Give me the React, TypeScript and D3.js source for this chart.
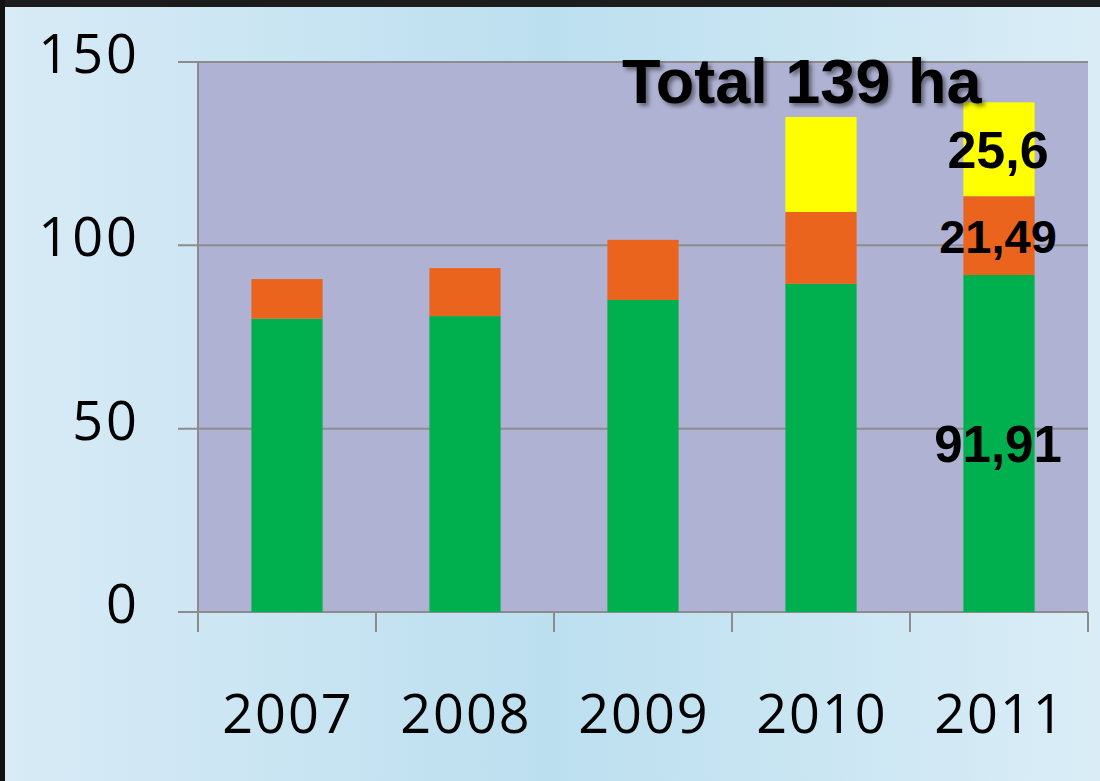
import React, { useRef, useEffect } from "react";
import * as d3 from "d3";

const years = ["2007", "2008", "2009", "2010", "2011"];
const greenValues = [80, 80.7, 85.1, 89.5, 91.91];
const orangeValues = [10.8, 13.1, 16.4, 19.6, 21.49];
const yellowValues = [0, 0, 0, 25.9, 25.6];
const yTicks = [0, 50, 100, 150];
const totalLabel = "Total 139 ha";
const labelledYear = "2011";

const W = 1100;
const H = 781;

const App: React.FC = () => {
  const svgRef = useRef<SVGSVGElement | null>(null);

  useEffect(() => {
    if (!svgRef.current) return;
    document.body.style.margin = "0";

    const svg = d3.select(svgRef.current);
    svg.selectAll("*").remove();

    const left = 198;
    const right = 1088;
    const top = 62;
    const bottom = 612;

    const defs = svg.append("defs");
    defs
      .append("linearGradient")
      .attr("id", "bgGrad")
      .attr("x1", "0%")
      .attr("x2", "100%")
      .attr("y1", "0%")
      .attr("y2", "0%")
      .selectAll("stop")
      .data([
        { offset: "0%", color: "#d8ebf6" },
        { offset: "50%", color: "#bcdfef" },
        { offset: "100%", color: "#daedf7" },
      ])
      .join("stop")
      .attr("offset", (d) => d.offset)
      .attr("stop-color", (d) => d.color);

    const shadow = defs
      .append("filter")
      .attr("id", "shadow")
      .attr("x", "-10%")
      .attr("y", "-30%")
      .attr("width", "130%")
      .attr("height", "170%");
    shadow
      .append("feDropShadow")
      .attr("dx", 3)
      .attr("dy", 3)
      .attr("stdDeviation", 2)
      .attr("flood-color", "#000")
      .attr("flood-opacity", 0.45);

    // background + dark frame
    svg.append("rect").attr("width", W).attr("height", H).attr("fill", "url(#bgGrad)");
    svg.append("rect").attr("width", W).attr("height", 7).attr("fill", "#1c1c1c");
    svg.append("rect").attr("width", 5).attr("height", H).attr("fill", "#111");

    const x = d3
      .scaleBand()
      .domain(years)
      .range([left, right])
      .paddingInner(0.6)
      .paddingOuter(0.3);

    const y = d3.scaleLinear().domain([0, 150]).range([bottom, top]);

    const g = svg.append("g");

    g.append("rect")
      .attr("x", left)
      .attr("y", top)
      .attr("width", right - left)
      .attr("height", bottom - top)
      .attr("fill", "#afb2d3");

    // gridlines extending as left ticks
    g.append("g")
      .selectAll("line")
      .data(yTicks)
      .join("line")
      .attr("x1", left - 20)
      .attr("x2", right)
      .attr("y1", (d) => y(d))
      .attr("y2", (d) => y(d))
      .attr("stroke", "#8c8c8c")
      .attr("stroke-width", 2);

    g.append("line")
      .attr("x1", left)
      .attr("x2", left)
      .attr("y1", top)
      .attr("y2", bottom)
      .attr("stroke", "#8c8c8c")
      .attr("stroke-width", 2);

    // x ticks at band boundaries
    const boundaries = years.map((yr) => (x(yr) || 0) - (x.step() * x.paddingInner()) / 2);
    boundaries.push(right);
    boundaries[0] = left;
    g.append("g")
      .selectAll("line")
      .data(boundaries)
      .join("line")
      .attr("x1", (d) => d)
      .attr("x2", (d) => d)
      .attr("y1", bottom)
      .attr("y2", bottom + 20)
      .attr("stroke", "#8c8c8c")
      .attr("stroke-width", 2);

    const rows = years.map((yr, i) => ({
      year: yr,
      green: greenValues[i],
      orange: orangeValues[i],
      yellow: yellowValues[i],
    }));

    const stack = d3.stack<any>().keys(["green", "orange", "yellow"])(rows);
    const colors: Record<string, string> = {
      green: "#00b04f",
      orange: "#ea641e",
      yellow: "#ffff00",
    };
    const seriesValues: Record<string, number[]> = {
      green: greenValues,
      orange: orangeValues,
      yellow: yellowValues,
    };

    g.append("g")
      .selectAll("g")
      .data(stack)
      .join("g")
      .attr("fill", (s) => colors[s.key])
      .selectAll("rect")
      .data((s) => s.filter((d) => d[1] - d[0] > 0))
      .join("rect")
      .attr("x", (d) => x(d.data.year) || 0)
      .attr("y", (d) => y(d[1]))
      .attr("width", x.bandwidth())
      .attr("height", (d) => y(d[0]) - y(d[1]));

    // y axis labels
    g.append("g")
      .selectAll("text")
      .data(yTicks)
      .join("text")
      .attr("x", 140)
      .attr("y", (d) => y(d) + 11)
      .attr("text-anchor", "end")
      .attr("font-family", "'Open Sans', sans-serif")
      .attr("font-size", 54)
      .attr("letter-spacing", 3)
      .attr("fill", "#000")
      .text((d) => d);

    // x axis labels
    g.append("g")
      .selectAll("text")
      .data(years)
      .join("text")
      .attr("x", (d) => (x(d) || 0) + x.bandwidth() / 2 + 1)
      .attr("y", 733)
      .attr("text-anchor", "middle")
      .attr("font-family", "'Open Sans', sans-serif")
      .attr("font-size", 54)
      .attr("letter-spacing", 2)
      .attr("fill", "#000")
      .text((d) => d);

    // value labels for the last bar
    const sizes: Record<string, number> = { green: 51, orange: 47, yellow: 52 };
    const idx = years.indexOf(labelledYear);
    stack.forEach((s) => {
      const d = s[idx];
      const mid = (y(d[0]) + y(d[1])) / 2;
      const fs = sizes[s.key];
      g.append("text")
        .attr("x", (x(labelledYear) || 0) + x.bandwidth() / 2 - 1)
        .attr("y", mid + fs * 0.36)
        .attr("text-anchor", "middle")
        .attr("font-family", "'Liberation Sans', Arial, sans-serif")
        .attr("font-weight", "bold")
        .attr("font-size", fs)
        .attr("fill", "#000")
        .text(String(seriesValues[s.key][idx]).replace(".", ","));
    });

    g.append("text")
      .attr("x", 622)
      .attr("y", 103)
      .attr("font-family", "'Liberation Sans', Arial, sans-serif")
      .attr("font-weight", "bold")
      .attr("font-size", 63)
      .attr("fill", "#000")
      .attr("filter", "url(#shadow)")
      .text(totalLabel);
  }, []);

  return <svg ref={svgRef} width={W} height={H} style={{ display: "block" }} />;
};

export default App;
